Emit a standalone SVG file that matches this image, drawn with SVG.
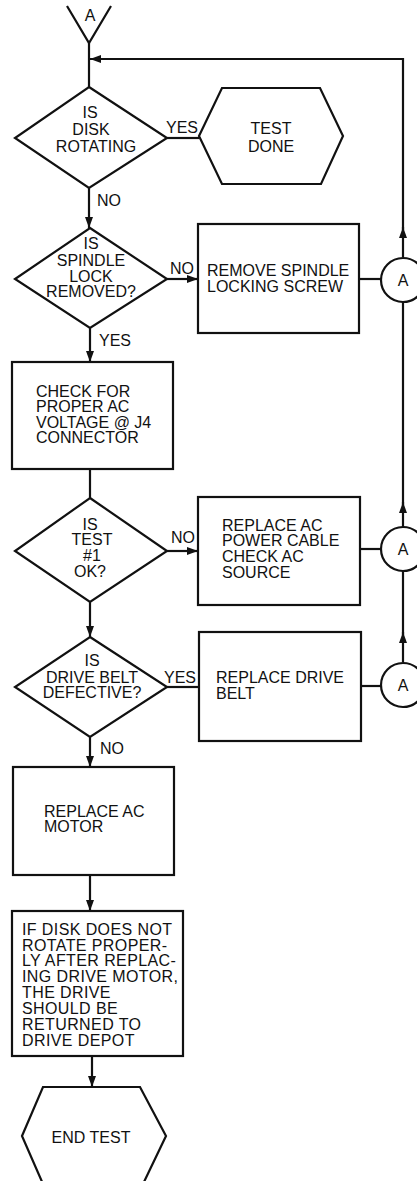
<svg xmlns="http://www.w3.org/2000/svg" width="417" height="1181" viewBox="0 0 417 1181">
<style>
.s{fill:none;stroke:#111;stroke-width:2.2;stroke-linejoin:miter}
.c{fill:none;stroke:#111;stroke-width:2.2}
text{font-family:"Liberation Sans",Arial,sans-serif;font-size:16px;fill:#111}
.m{text-anchor:middle}
.w{letter-spacing:0.4px}
</style>
<defs>
<marker id="ah" markerUnits="userSpaceOnUse" markerWidth="12" markerHeight="8" refX="11" refY="4" orient="auto">
<path d="M0,0 L11,4 L0,8 z" fill="#111"/>
</marker>
</defs>
<rect width="417" height="1181" fill="#fff"/>

<g id="connectors">
<line class="c" x1="89" y1="43" x2="89" y2="87"/>
<line class="c" x1="403" y1="257" x2="403" y2="227" marker-end="url(#ah)"/>
<polyline class="c" points="403,230 403,59 90,59" marker-end="url(#ah)"/>
<line class="c" x1="403" y1="527" x2="403" y2="502" marker-end="url(#ah)"/>
<line class="c" x1="403" y1="505" x2="403" y2="302"/>
<line class="c" x1="403" y1="662" x2="403" y2="632" marker-end="url(#ah)"/>
<line class="c" x1="403" y1="635" x2="403" y2="571"/>
<line class="c" x1="167" y1="138" x2="199" y2="138"/>
<line class="c" x1="89" y1="188" x2="89" y2="228" marker-end="url(#ah)"/>
<line class="c" x1="167" y1="279" x2="198" y2="279" marker-end="url(#ah)"/>
<line class="c" x1="359" y1="279" x2="381" y2="279"/>
<line class="c" x1="90" y1="328" x2="90" y2="362" marker-end="url(#ah)"/>
<line class="c" x1="90" y1="469" x2="90" y2="498"/>
<line class="c" x1="167" y1="551" x2="198" y2="551" marker-end="url(#ah)"/>
<line class="c" x1="360" y1="549" x2="381" y2="549"/>
<line class="c" x1="90" y1="602" x2="90" y2="637" marker-end="url(#ah)"/>
<line class="c" x1="167" y1="687" x2="199" y2="687"/>
<line class="c" x1="361" y1="686" x2="381" y2="686"/>
<line class="c" x1="90" y1="737" x2="90" y2="767" marker-end="url(#ah)"/>
<line class="c" x1="90" y1="875" x2="90" y2="911" marker-end="url(#ah)"/>
<line class="c" x1="92" y1="1056" x2="92" y2="1087" marker-end="url(#ah)"/>
<text x="166" y="133">YES</text>
<text x="97" y="206">NO</text>
<text x="170" y="274">NO</text>
<text x="99" y="346">YES</text>
<text x="171" y="543">NO</text>
<text x="164" y="683">YES</text>
<text x="100" y="754">NO</text>
</g>

<g id="entryA">
<polyline class="s" points="67,6 89,43 111,6"/>
<text class="m" x="90" y="21">A</text>
</g>

<g id="d1">
<polygon class="s" points="89,87 167,138 89,188 15,138"/>
<text class="m" x="90" y="118">IS</text>
<text class="m" x="91" y="135">DISK</text>
<text class="m" x="96" y="152">ROTATING</text>
</g>

<g id="testdone">
<polygon class="s" points="199,136 222,88 320,88 343,136 321,184 222,184"/>
<text class="m" x="271" y="134">TEST</text>
<text class="m" x="271" y="152">DONE</text>
</g>

<g id="d2">
<polygon class="s" points="90,228 167,279 90,328 15,279"/>
<text class="m" x="91" y="249">IS</text>
<text class="m" x="91" y="266">SPINDLE</text>
<text class="m" x="91" y="282">LOCK</text>
<text class="m" x="91" y="297">REMOVED?</text>
</g>

<g id="b1">
<rect class="s" x="198" y="224" width="161" height="109"/>
<text x="207" y="276">REMOVE SPINDLE</text>
<text x="207" y="292">LOCKING SCREW</text>
</g>

<g id="a1">
<circle class="c" cx="403" cy="280" r="22"/>
<text class="m" x="403" y="286">A</text>
</g>

<g id="b2">
<rect class="s" x="12" y="362" width="161" height="107"/>
<text x="36" y="397">CHECK FOR</text>
<text x="36" y="412">PROPER AC</text>
<text x="36" y="428">VOLTAGE @ J4</text>
<text x="36" y="443">CONNECTOR</text>
</g>

<g id="d3">
<polygon class="s" points="90,498 167,551 90,602 15,551"/>
<text class="m" x="90" y="530">IS</text>
<text class="m" x="92" y="545">TEST</text>
<text class="m" x="92" y="561">#1</text>
<text class="m" x="90" y="577">OK?</text>
</g>

<g id="b3">
<rect class="s" x="198" y="497" width="162" height="108"/>
<text x="222" y="531">REPLACE AC</text>
<text x="222" y="546">POWER CABLE</text>
<text x="222" y="562">CHECK AC</text>
<text x="222" y="578">SOURCE</text>
</g>

<g id="a2">
<circle class="c" cx="403" cy="549" r="22"/>
<text class="m" x="403" y="555">A</text>
</g>

<g id="d4">
<polygon class="s" points="90,637 167,687 90,737 15,687"/>
<text class="m" x="92" y="666">IS</text>
<text class="m" x="92" y="683">DRIVE BELT</text>
<text class="m" x="92" y="698">DEFECTIVE?</text>
</g>

<g id="b4">
<rect class="s" x="199" y="632" width="162" height="109"/>
<text x="216" y="683">REPLACE DRIVE</text>
<text x="216" y="699">BELT</text>
</g>

<g id="a3">
<circle class="c" cx="403" cy="685" r="22"/>
<text class="m" x="403" y="691">A</text>
</g>

<g id="b5">
<rect class="s" x="13" y="767" width="161" height="108"/>
<text x="44" y="817">REPLACE AC</text>
<text x="44" y="832">MOTOR</text>
</g>

<g id="b6">
<rect class="s" x="12" y="911" width="171" height="145"/>
<text class="w" x="22" y="935">IF DISK DOES NOT</text>
<text class="w" x="22" y="951">ROTATE PROPER-</text>
<text class="w" x="22" y="966">LY AFTER REPLAC-</text>
<text class="w" x="22" y="982">ING DRIVE MOTOR,</text>
<text class="w" x="22" y="998">THE DRIVE</text>
<text class="w" x="22" y="1014">SHOULD BE</text>
<text class="w" x="22" y="1030">RETURNED TO</text>
<text class="w" x="22" y="1046">DRIVE DEPOT</text>
</g>

<g id="endtest">
<polygon class="s" points="22,1136 43,1087 140,1087 166,1136 143,1184 43,1184"/>
<text class="m" x="91" y="1143">END TEST</text>
</g>
</svg>
